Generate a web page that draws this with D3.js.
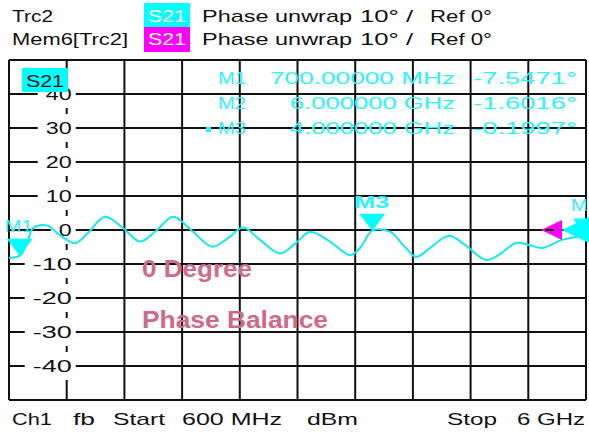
<!DOCTYPE html>
<html>
<head>
<meta charset="utf-8">
<script src="https://cdn.jsdelivr.net/npm/d3@7"></script>
<style>
  body { margin: 0; background: #fff; }
  svg { display: block; font-family: "Liberation Sans", Arial, sans-serif; }
</style>
</head>
<body>
<div id="chart"></div>
<script>
// trace Trc2, S21 phase (deg) vs frequency (MHz)
const freqMHz = [600, 700, 768, 825, 956, 1077, 1218, 1339, 1498, 1667, 1826, 1985, 2135, 2322,
  2500, 2650, 2790, 2949, 3136, 3286, 3417, 3604, 3791, 3885, 4000, 4165, 4306, 4409, 4540,
  4718, 4868, 5064, 5195, 5345, 5467, 5589, 5776, 6000];
const phaseDeg = [-8.2, -7.55, -4.1, 0.6, 1.3, -1.5, -3.9, -0.9, 3.9, 0.6, -3.4, 0, 3.9, -0.5,
  -4.9, -2.4, 0.7, -2.9, -6.9, -3.8, -0.5, -3.4, -7.4, -5.3, -0.2, -0.5, -5.0, -7.9, -5.3,
  -1.7, -4.4, -8.8, -7.1, -3.8, -4.4, -5.3, -2.9, -1.6];

const yTicks = [40, 30, 20, 10, 0, -10, -20, -30, -40];

const markerNames = ['M1', 'M2', 'M3'];
const markerFreq = [700, 6000, 4000];
const markerFreqText = ['700.00000 MHz', '6.000000 GHz', '4.000000 GHz'];
const markerValues = [-7.5471, -1.6016, -0.1997];
const activeMarker = 'M3';

const traceNames = ['Trc2', 'Mem6[Trc2]'];
const traceColors = ['#00ffff', '#ff00ff'];
const traceParam = 'S21';
const traceFormat = ['Phase unwrap', '10° /', 'Ref 0°'];
const refLevel = 0;

const footer = ['Ch1', 'fb', 'Start', '600 MHz', 'dBm', 'Stop', '6 GHz'];
const notes = ['0 Degree', 'Phase Balance'];

const W = 589, H = 432;
const margin = { top: 60, right: 3, bottom: 32, left: 9 };
const cyan = '#00ffff', cyanText = '#2ff2ff', pink = '#cf6a8a';

const svg = d3.select('#chart').append('svg').attr('width', W).attr('height', H);

const x = d3.scaleLinear().domain([600, 6000]).range([margin.left, W - margin.right]);
const y = d3.scaleLinear().domain([-50, 50]).range([H - margin.bottom, margin.top]);

// text helper: stretched to a width, like the analyzer's wide font
function txt(g, str, px, py, w, o = {}) {
  const t = g.append('text')
    .attr('x', px).attr('y', py)
    .attr('font-size', o.size || 17)
    .attr('font-weight', o.weight || 'normal')
    .attr('fill', o.fill || '#111')
    .text(str);
  if (w) t.attr('textLength', w).attr('lengthAdjust', 'spacingAndGlyphs');
  return t;
}

// header
const head = svg.append('g');
const rowY = [22, 45];
traceNames.forEach((n, i) => {
  txt(head, n, 12, rowY[i], i === 0 ? 41 : 116);
  head.append('rect').attr('x', 144).attr('y', i === 0 ? 3 : 27)
    .attr('width', 46).attr('height', i === 0 ? 24 : 25).attr('fill', traceColors[i]);
  txt(head, traceParam, 148, rowY[i], 38, { fill: '#fff' });
  txt(head, traceFormat[0], 202, rowY[i], 150);
  txt(head, traceFormat[1], 360, rowY[i], 53);
  txt(head, traceFormat[2], 430, rowY[i], 62);
});

// grid
const grid = svg.append('g').attr('stroke', '#111').attr('stroke-width', 2);
grid.selectAll('.v').data(d3.range(0, 11)).join('line')
  .attr('x1', d => x(600 + d * 540)).attr('x2', d => x(600 + d * 540))
  .attr('y1', y(50)).attr('y2', y(-50));
grid.selectAll('.h').data(d3.range(-50, 51, 10)).join('line')
  .attr('x1', x(600)).attr('x2', x(6000))
  .attr('y1', d => y(d)).attr('y2', d => y(d));

// y labels with white boxes over the grid
const lab = svg.append('g');
yTicks.forEach(d => {
  const s = String(d);
  const w = 13 * s.length;
  const right = x(1140) + 5;
  lab.append('rect').attr('x', right - w - 8).attr('y', y(d) - 14)
    .attr('width', w + 12).attr('height', 28).attr('fill', '#fff');
  txt(lab, s, right - w, y(d) + 6, w);
});

// notes
txt(svg, notes[0], 142, 277, 110, { size: 23, fill: pink, weight: 'bold' });
txt(svg, notes[1], 142, 328, 186, { size: 23, fill: pink, weight: 'bold' });

// marker table
const tab = svg.append('g');
[0, 1, 2].forEach(i => {
  const by = 84 + i * 25;
  txt(tab, markerNames[i], 218, by, 28, { fill: cyanText });
  const fw = markerFreqText[i].length === 13 ? 185 : 165;
  txt(tab, markerFreqText[i], 455 - fw, by, fw, { fill: cyanText });
  const v = markerValues[i].toFixed(4) + '°';
  txt(tab, v, 473, by, 104, { fill: cyanText });
  if (markerNames[i] === activeMarker) {
    tab.append('rect').attr('x', 206).attr('y', by - 7).attr('width', 5).attr('height', 5).attr('fill', cyanText);
  }
});

// trace
const pts = freqMHz.map((f, i) => [f, phaseDeg[i]]);
const line = d3.line().x(d => x(d[0])).y(d => y(d[1])).curve(d3.curveCatmullRom);
svg.append('path').datum(pts)
  .attr('fill', 'none').attr('stroke', '#14e8f0').attr('stroke-width', 2)
  .attr('d', line);

// markers
markerNames.forEach((m, i) => {
  const mx = x(markerFreq[i]), my = y(markerValues[i]);
  svg.append('path')
    .attr('d', `M${mx - 13},${my - 17}L${mx + 13},${my - 17}L${mx},${my}Z`)
    .attr('fill', cyan);
  const bold = m === activeMarker;
  txt(svg, m, mx - (bold ? 18 : 15), my - (bold ? 23 : 24), bold ? 35 : 28,
    { fill: cyanText, weight: bold ? 'bold' : 'normal' });
});

// reference level arrows
const ry = y(refLevel), rx = x(6000);
svg.append('path').attr('d', `M${rx - 45},${ry}L${rx - 24},${ry - 10}L${rx - 24},${ry + 10}Z`).attr('fill', '#ff00ff');
svg.append('line').attr('x1', rx - 41).attr('x2', rx - 32).attr('y1', ry).attr('y2', ry).attr('stroke', '#111').attr('stroke-width', 2);
svg.append('path').attr('d', `M${rx - 24},${ry}L${rx + 3},${ry - 13}L${rx + 3},${ry + 13}Z`).attr('fill', cyan);

// S21 tag
svg.append('rect').attr('x', 22).attr('y', 68).attr('width', 46).attr('height', 24).attr('fill', cyan);
txt(svg, traceParam, 26, 87, 38);

// footer
const fx = [[12, 40], [73, 22], [113, 52], [182, 100], [307, 51], [447, 50], [517, 68]];
footer.forEach((s, i) => txt(svg, s, fx[i][0], 425, fx[i][1]));
</script>
</body>
</html>
